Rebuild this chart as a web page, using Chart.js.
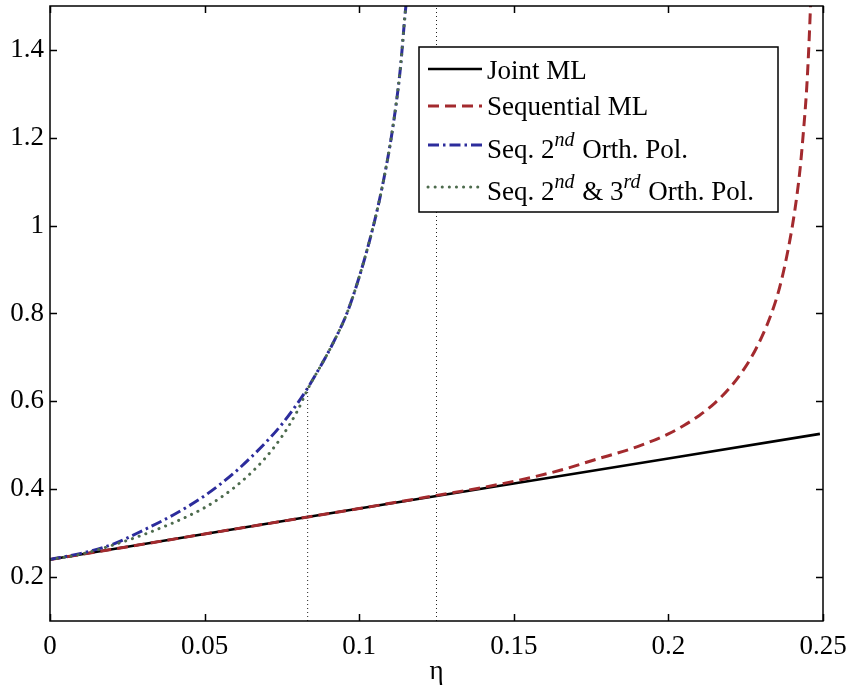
<!DOCTYPE html>
<html>
<head>
<meta charset="utf-8">
<script src="https://cdn.jsdelivr.net/npm/chart.js@4/dist/chart.umd.min.js"></script>
<style>
  html, body { margin: 0; padding: 0; background: #fff; }
</style>
</head>
<body>
<canvas id="chart" width="848" height="689"></canvas>
<script>
const xTicks = [0, 0.05, 0.1, 0.15, 0.2, 0.25];
const yTicks = [0.2, 0.4, 0.6, 0.8, 1, 1.2, 1.4];

const seriesNames = [
    "Joint ML",
    "Sequential ML",
    "Seq. 2^{nd} Orth. Pol.",
    "Seq. 2^{nd} & 3^{rd} Orth. Pol."
];

const jointX = [0, 0.05, 0.1, 0.15, 0.2, 0.249];
const jointY = [0.24, 0.298, 0.356, 0.413, 0.470, 0.526];

const seqX = [0, 0.05, 0.1, 0.125, 0.14, 0.15, 0.165, 0.1757, 0.19, 0.2, 0.205, 0.21, 0.215, 0.22,
    0.2245, 0.2285, 0.2329, 0.236, 0.2387, 0.241, 0.2426, 0.2435, 0.2447, 0.2455, 0.2465];
const seqY = [0.24, 0.298, 0.356, 0.386, 0.404, 0.418, 0.443, 0.466, 0.497, 0.526, 0.545, 0.568, 0.596, 0.632,
    0.674, 0.722, 0.792, 0.860, 0.945, 1.04, 1.13, 1.20, 1.31, 1.42, 1.6];

const orth2X = [0, 0.01, 0.02, 0.03, 0.04, 0.05, 0.06, 0.07, 0.075, 0.08, 0.0833, 0.0875, 0.0915,
    0.096, 0.1, 0.1045, 0.1077, 0.1106, 0.1132, 0.1151, 0.117];
const orth2Y = [0.24, 0.254, 0.274, 0.306, 0.342, 0.385, 0.440, 0.508, 0.548, 0.595, 0.630, 0.680, 0.732,
    0.80, 0.883, 0.997, 1.097, 1.211, 1.35, 1.5, 1.6];

const orth23X = [0, 0.01, 0.02, 0.03, 0.04, 0.045, 0.05, 0.055, 0.06, 0.065, 0.07, 0.075, 0.08, 0.0835,
    0.0875, 0.0915, 0.096, 0.1, 0.1045, 0.1077, 0.1106, 0.1132, 0.1151, 0.117];
const orth23Y = [0.24, 0.252, 0.272, 0.296, 0.324, 0.340, 0.358, 0.380, 0.406, 0.437, 0.474, 0.52, 0.578, 0.630,
    0.680, 0.732, 0.80, 0.883, 0.997, 1.097, 1.211, 1.35, 1.5, 1.6];

// vertical dotted marker lines
const markerX = [1 / 12, 0.125];
const markerTop = [0.632, 1.5];
const yMin = 0.1;

const fontFamily = '"Liberation Serif", "Times New Roman", serif';

const toPoints = (xs, ys) => xs.map((x, i) => ({ x: x, y: ys[i] }));
const plainName = s => s.replace(/\^\{([^}]*)\}/g, "$1");

const datasets = [
    {
        label: plainName(seriesNames[0]),
        data: toPoints(jointX, jointY),
        borderColor: "#000000",
        borderWidth: 2.6,
        order: 4
    },
    {
        label: plainName(seriesNames[1]),
        data: toPoints(seqX, seqY),
        borderColor: "#a32a2e",
        borderWidth: 3,
        borderDash: [11, 6],
        cubicInterpolationMode: "monotone",
        order: 3
    },
    {
        label: plainName(seriesNames[2]),
        data: toPoints(orth2X, orth2Y),
        borderColor: "#2c2c9c",
        borderWidth: 3,
        borderDash: [11, 4, 2.5, 4],
        cubicInterpolationMode: "monotone",
        order: 2
    },
    {
        label: plainName(seriesNames[3]),
        data: toPoints(orth23X, orth23Y),
        borderColor: "#4d6b4d",
        borderWidth: 3,
        borderDash: [0.1, 7],
        borderCapStyle: "round",
        cubicInterpolationMode: "monotone",
        order: 1
    }
];

markerX.forEach((mx, i) => {
    datasets.push({
        label: "marker",
        data: [{ x: mx, y: yMin }, { x: mx, y: markerTop[i] }],
        borderColor: "#222222",
        borderWidth: 1,
        borderDash: [1, 3],
        order: 0
    });
});

// box round the plot with inward ticks, MATLAB style
const frame = {
    id: "frame",
    afterDatasetsDraw(chart) {
        const { ctx, chartArea: a, scales: { x, y } } = chart;
        ctx.save();
        ctx.strokeStyle = "#000";
        ctx.lineWidth = 1.5;
        ctx.setLineDash([]);
        ctx.strokeRect(a.left, a.top, a.right - a.left, a.bottom - a.top);
        ctx.beginPath();
        x.ticks.forEach(t => {
            const px = Math.round(x.getPixelForValue(t.value)) + 0.5;
            ctx.moveTo(px, a.bottom); ctx.lineTo(px, a.bottom - 7);
            ctx.moveTo(px, a.top); ctx.lineTo(px, a.top + 7);
        });
        y.ticks.forEach(t => {
            const py = Math.round(y.getPixelForValue(t.value)) + 0.5;
            ctx.moveTo(a.left, py); ctx.lineTo(a.left + 7, py);
            ctx.moveTo(a.right, py); ctx.lineTo(a.right - 7, py);
        });
        ctx.stroke();
        ctx.restore();
    }
};

// legend box with superscripts
const boxLegend = {
    id: "boxLegend",
    afterDraw(chart) {
        const ctx = chart.ctx;
        const left = 419, top = 47, right = 778, bottom = 212;
        const lineY = [69, 106, 145, 187];
        const baseY = [79, 115, 158, 200];
        ctx.save();
        ctx.fillStyle = "#fff";
        ctx.fillRect(left, top, right - left, bottom - top);
        ctx.strokeStyle = "#000";
        ctx.lineWidth = 1.5;
        ctx.setLineDash([]);
        ctx.strokeRect(left, top, right - left, bottom - top);

        seriesNames.forEach((name, i) => {
            const ds = chart.data.datasets[i];
            ctx.beginPath();
            ctx.strokeStyle = ds.borderColor;
            ctx.lineWidth = ds.borderWidth;
            ctx.lineCap = ds.borderCapStyle || "butt";
            ctx.setLineDash(ds.borderDash || []);
            ctx.moveTo(428, lineY[i]);
            ctx.lineTo(482, lineY[i]);
            ctx.stroke();

            ctx.setLineDash([]);
            ctx.fillStyle = "#000";
            ctx.textBaseline = "alphabetic";
            ctx.textAlign = "left";
            let tx = 487;
            name.split(/(\^\{[^}]*\})/).forEach(part => {
                if (!part) return;
                if (part.startsWith("^{")) {
                    const s = part.slice(2, -1);
                    ctx.font = "italic 20px " + fontFamily;
                    ctx.fillText(s, tx, baseY[i] - 12);
                    tx += ctx.measureText(s).width + 1;
                } else {
                    ctx.font = "27px " + fontFamily;
                    ctx.fillText(part, tx, baseY[i]);
                    tx += ctx.measureText(part).width;
                }
            });
        });
        ctx.restore();
    }
};

const chart = new Chart(document.getElementById("chart"), {
    type: "line",
    data: { datasets: datasets },
    options: {
        responsive: false,
        animation: false,
        layout: { autoPadding: false, padding: { top: 6, right: 25, left: 0, bottom: 0 } },
        elements: { point: { radius: 0 }, line: { tension: 0 } },
        plugins: { legend: { display: false }, tooltip: { enabled: false } },
        scales: {
            x: {
                type: "linear",
                min: 0,
                max: 0.25,
                afterBuildTicks: s => { s.ticks = xTicks.map(v => ({ value: v })); },
                afterFit: s => { s.height = 68; s.paddingLeft = 0; s.paddingRight = 0; },
                grid: { display: false, drawTicks: false },
                border: { display: false },
                ticks: {
                    padding: 10,
                    color: "#000",
                    font: { family: fontFamily, size: 27 },
                    callback: v => String(v)
                },
                title: {
                    display: true,
                    text: "η",
                    color: "#000",
                    font: { family: fontFamily, size: 27 },
                    padding: { top: 0, bottom: 1 }
                }
            },
            y: {
                type: "linear",
                min: 0.1,
                max: 1.5,
                afterBuildTicks: s => { s.ticks = yTicks.map(v => ({ value: v })); },
                afterFit: s => { s.width = 50; s.paddingTop = 0; s.paddingBottom = 0; },
                grid: { display: false, drawTicks: false },
                border: { display: false },
                ticks: {
                    padding: 6,
                    color: "#000",
                    font: { family: fontFamily, size: 27 },
                    callback: v => String(v)
                }
            }
        }
    },
    plugins: [frame, boxLegend]
});
</script>
</body>
</html>
